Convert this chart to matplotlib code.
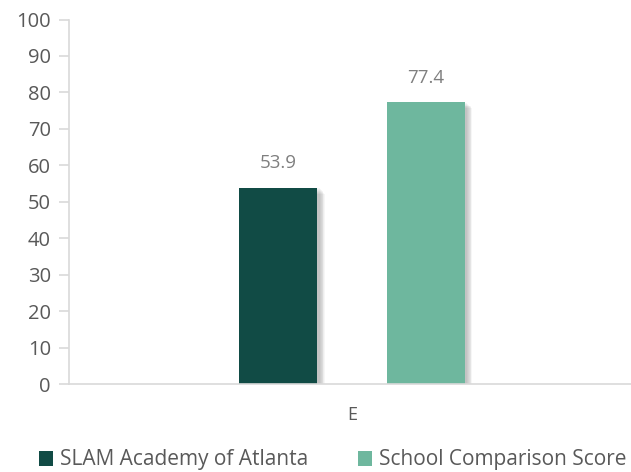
import matplotlib
matplotlib.use("Agg")
import matplotlib.pyplot as plt
from matplotlib.patches import Rectangle

plt.rcParams['font.family'] = ['Open Sans', 'DejaVu Sans']

categories = ['E']
series_names = ['SLAM Academy of Atlanta', 'School Comparison Score']
series_values = [[53.9], [77.4]]
series_colors = ['#114B45', '#6EB79E']
y_ticks = list(range(0, 101, 10))

fig = plt.figure(figsize=(6.31, 4.72), dpi=100)
ax = fig.add_axes([69 / 631, 1 - 384 / 472, 566 / 631, (384 - 19.5) / 472])

bar_w = 0.138
offsets = [-0.13, 0.13]
handles = []
for name, vals, color, off in zip(series_names, series_values, series_colors, offsets):
    for i, v in enumerate(vals):
        x0 = i + off - bar_w / 2
        # soft drop shadow to the right
        for k in range(1, 8):
            d = 0.0015 * k
            ax.add_patch(Rectangle((x0 + d + 0.003, -0.6), bar_w, v + 0.6 - 0.25 * k,
                                   facecolor='black', alpha=0.035, lw=0, zorder=1))
    b = ax.bar([i + off for i in range(len(vals))], vals, width=bar_w, color=color,
               label=name, zorder=3)
    handles.append(b)
    for rect, v in zip(b, vals):
        ax.text(rect.get_x() + rect.get_width() / 2, v + 4.2, f'{v:.1f}', ha='center',
                va='bottom', fontsize=13.5, color='#7F7F7F')

ax.set_xlim(-0.5, 0.5)
ax.set_ylim(0, 100)
ax.set_yticks(y_ticks)
ax.set_xticks(range(len(categories)))
ax.set_xticklabels(categories)

for s in ['top', 'right']:
    ax.spines[s].set_visible(False)
for s in ['left', 'bottom']:
    ax.spines[s].set_color('#D9D9D9')
    ax.spines[s].set_linewidth(1.2)
    ax.spines[s].set_zorder(4)
ax.tick_params(axis='y', length=7, width=1.2, color='#D9D9D9', labelsize=14.5,
               labelcolor='#595959', pad=6)
ax.tick_params(axis='x', length=0, labelsize=13, labelcolor='#595959', pad=16)

fig.legend(handles=handles, labels=series_names, loc='center', ncol=2,
           bbox_to_anchor=(0.527, 1 - 460 / 472), frameon=False, fontsize=15,
           labelcolor='#595959', handlelength=0.7, handleheight=0.7,
           handletextpad=0.3, columnspacing=2.4)

fig.savefig('out.png', dpi=100)
